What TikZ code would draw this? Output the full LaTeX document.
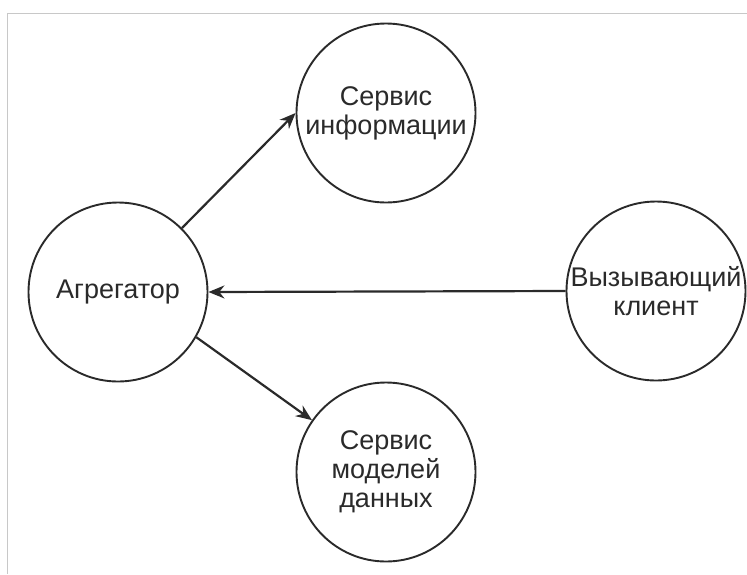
\documentclass[tikz,border=0pt]{standalone}
\usepackage{fontspec}
\setmainfont{Liberation Sans}
\usetikzlibrary{arrows.meta}
\definecolor{linegray}{HTML}{2A2A2A}
\definecolor{framegray}{HTML}{C8C8C8}
\tikzset{
    service/.style={draw=linegray, line width=1.9pt, circle, minimum size=179pt, inner sep=0pt,
        align=center, text=linegray, font=\fontsize{27}{29}\selectfont},
    link/.style={draw=linegray, line width=2.2pt, -{Stealth[length=16pt, width=13pt]}}
}
\begin{document}
\begin{tikzpicture}[x=1pt, y=-1pt]
    \useasboundingbox (0,0) rectangle (747,574);
    % Frame lines
    \draw[framegray, line width=1pt] (7,574) -- (7,13) -- (747,13);

    % Circles
    \node[service] (agg) at (118,292) {Агрегатор};
    \node[service] (info) at (386,113) {Сервис\\информации};
    \node[service] (models) at (386,472) {Сервис\\моделей\\данных};
    \node[service] (client) at (656,291) {Вызывающий\\клиент};

    % Arrows
    \draw[link] (agg.45) -- (info.west);
    \draw[link] (agg.-30) -- (models.145);
    \draw[link] (client.west) -- (agg.east);
\end{tikzpicture}
\end{document}
